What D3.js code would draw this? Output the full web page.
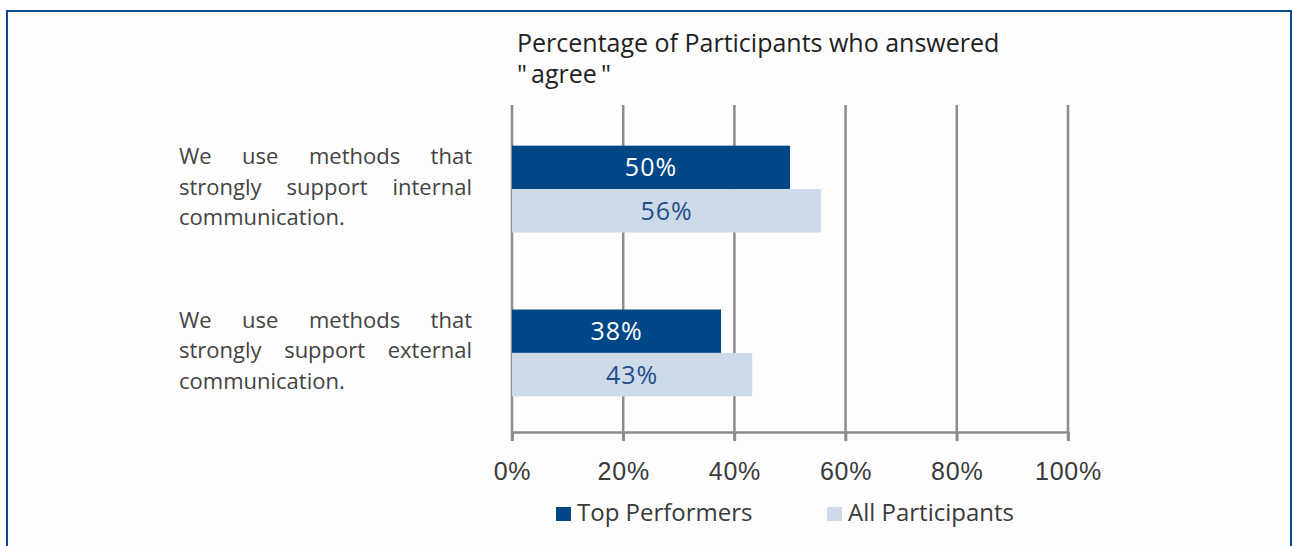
<!DOCTYPE html>
<html>
<head>
<meta charset="utf-8">
<script src="https://cdn.jsdelivr.net/npm/d3@7"></script>
<style>
  html, body { margin: 0; padding: 0; background: #fff; }
  svg { display: block; font-family: "Open Sans", "Noto Sans", sans-serif; }
</style>
</head>
<body>
<svg id="chart" width="1293" height="546"></svg>
<script>
// data
var categories = [
  "We use methods that strongly support internal communication.",
  "We use methods that strongly support external communication."
];
var seriesNames = ["Top Performers", "All Participants"];
var topPerformers = [50, 37.6];
var allParticipants = [55.6, 43.2];
var tickValues = [0, 20, 40, 60, 80, 100];
var titleLines = ["Percentage of Participants who answered", "\"\u2009agree\u2009\""];

var svg = d3.select("#chart");
var colors = ["#004787", "#cddbe8"];
var labelColors = ["#ffffff", "#1f4e8c"];

// outer frame
svg.append("rect")
  .attr("x", 7).attr("y", 11)
  .attr("width", 1284).attr("height", 560)
  .attr("fill", "#fdfdfd")
  .attr("stroke", "#0a4a8a")
  .attr("stroke-width", 2);

var x = d3.scaleLinear().domain([0, 100]).range([512, 1068]);
var y = d3.scaleBand().domain(categories).range([108, 434]).paddingInner(0.47).paddingOuter(0.23);
var ySub = d3.scaleBand().domain(seriesNames).range([0, y.bandwidth()]);

// grid lines
svg.append("g").selectAll("line")
  .data(tickValues)
  .enter().append("line")
  .attr("x1", function(d) { return x(d); })
  .attr("x2", function(d) { return x(d); })
  .attr("y1", 105).attr("y2", 441)
  .attr("stroke", "#8c8c8c")
  .attr("stroke-width", 2.5);

// axis
var axis = svg.append("g")
  .attr("transform", "translate(0,432)")
  .call(d3.axisBottom(x).tickValues(tickValues).tickSize(9).tickFormat(function(d) { return d + "%"; }));
axis.select(".domain").attr("stroke", "#8c8c8c").attr("stroke-width", 2.5);
axis.selectAll(".tick line").attr("stroke", "#8c8c8c").attr("stroke-width", 2.5);
axis.selectAll(".tick text")
  .attr("y", 30).attr("dy", "0.71em")
  .attr("fill", "#3a3a3a")
  .style("font-size", "25px")
  .style("letter-spacing", "0.8px");

// bars
var series = [topPerformers, allParticipants];
series.forEach(function(vals, si) {
  var g = svg.append("g");
  g.selectAll("rect")
    .data(vals)
    .enter().append("rect")
    .attr("x", x(0))
    .attr("y", function(d, i) { return y(categories[i]) + ySub(seriesNames[si]); })
    .attr("width", function(d) { return x(d) - x(0); })
    .attr("height", ySub.bandwidth())
    .attr("fill", colors[si]);
  g.selectAll("text")
    .data(vals)
    .enter().append("text")
    .attr("x", function(d) { return (x(0) + x(d)) / 2; })
    .attr("y", function(d, i) { return y(categories[i]) + ySub(seriesNames[si]) + ySub.bandwidth() / 2; })
    .attr("dy", "0.36em")
    .attr("text-anchor", "middle")
    .attr("fill", labelColors[si])
    .style("font-size", "25px")
    .style("letter-spacing", "1px")
    .text(function(d) { return Math.round(d) + "%"; });
});

// category labels, justified
var labelLeft = 179, labelRight = 472, lineH = 30.5;
categories.forEach(function(cat, ci) {
  var words = cat.split(" ");
  var lines = [words.slice(0, 4), words.slice(4, 7), words.slice(7)];
  var cy = y(cat) + y.bandwidth() / 2;
  var firstBase = cy - 25;
  lines.forEach(function(lw, li) {
    var base = firstBase + li * lineH;
    var tmp = svg.append("g");
    var nodes = lw.map(function(w) {
      return tmp.append("text").attr("y", base).attr("fill", "#444")
        .style("font-size", "22px").text(w);
    });
    var widths = nodes.map(function(n) { return n.node().getComputedTextLength(); });
    var total = d3.sum(widths);
    var last = li === lines.length - 1;
    var gap = (!last && lw.length > 1) ? (labelRight - labelLeft - total) / (lw.length - 1) : 6;
    var cx = labelLeft;
    nodes.forEach(function(n, k) {
      n.attr("x", cx);
      cx += widths[k] + gap;
    });
  });
});

// title
svg.append("g").selectAll("text")
  .data(titleLines)
  .enter().append("text")
  .attr("x", 517)
  .attr("y", function(d, i) { return 52 + i * 31; })
  .attr("fill", "#222")
  .style("font-size", "25px")
  .text(function(d) { return d; });

// legend
var legendX = [556, 827];
var legend = svg.append("g").selectAll("g")
  .data(seriesNames)
  .enter().append("g")
  .attr("transform", function(d, i) { return "translate(" + legendX[i] + ",507)"; });
legend.append("rect")
  .attr("width", 15).attr("height", 14)
  .attr("fill", function(d, i) { return colors[i]; });
legend.append("text")
  .attr("x", 21).attr("y", 14)
  .attr("fill", "#3a3a3a")
  .style("font-size", "24px")
  .text(function(d) { return d; });
</script>
</body>
</html>
